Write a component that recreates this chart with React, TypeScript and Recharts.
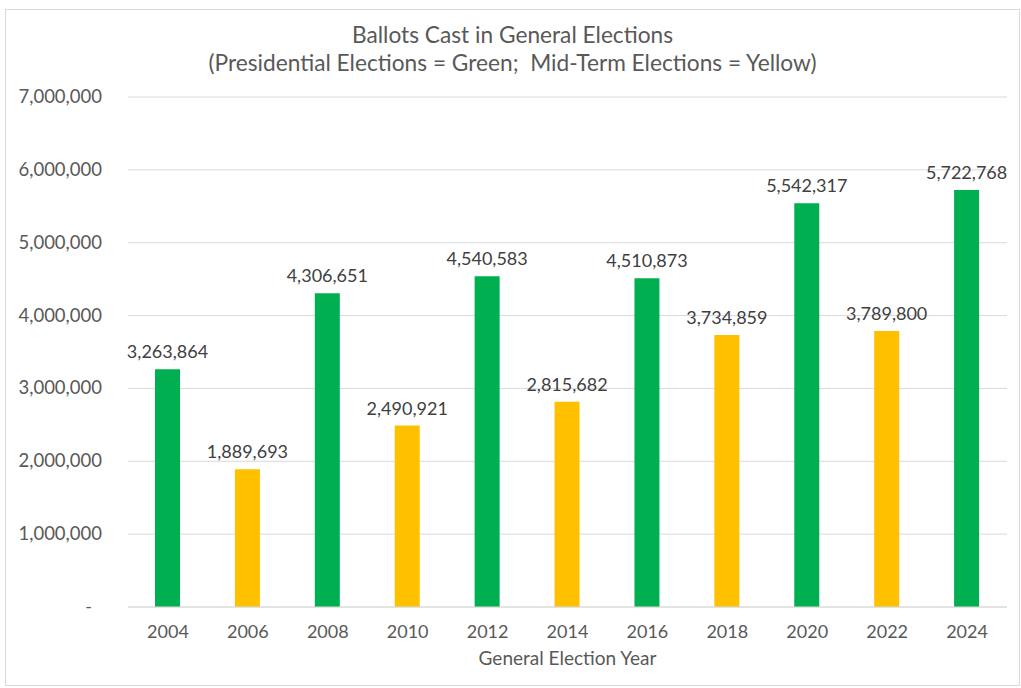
import React from "react";
import { BarChart, Bar, XAxis, YAxis, CartesianGrid, LabelList, Cell } from "recharts";

const years = ["2004", "2006", "2008", "2010", "2012", "2014", "2016", "2018", "2020", "2022", "2024"];
const ballots = [3263864, 1889693, 4306651, 2490921, 4540583, 2815682, 4510873, 3734859, 5542317, 3789800, 5722768];
const kinds = ["P", "M", "P", "M", "P", "M", "P", "M", "P", "M", "P"];
const yTicks = [0, 1000000, 2000000, 3000000, 4000000, 5000000, 6000000, 7000000];

const GREEN = "#00B050";
const YELLOW = "#FFC000";
const FONT = "Lato, 'Noto Sans', sans-serif";

const data = years.map((y, i) => ({ year: y, ballots: ballots[i], kind: kinds[i] }));

const YTick = (props: any) => {
  const { x, y, payload } = props;
  const v = payload.value as number;
  if (v === 0) {
    return (
      <text x={x - 10} y={y} dy={6} textAnchor="end" fill="#595959" fontSize={18} fontFamily={FONT}>
        -
      </text>
    );
  }
  return (
    <text x={x} y={y} dy={6} textAnchor="end" fill="#595959" fontSize={18.5} fontFamily={FONT}>
      {v.toLocaleString("en-US")}
    </text>
  );
};

export default function App() {
  return (
    <div
      style={{
        position: "absolute",
        left: 5,
        top: 9,
        width: 1015,
        height: 677,
        border: "1px solid #D9D9D9",
        boxSizing: "border-box",
        background: "#fff",
        fontFamily: FONT,
      }}
    >
      <div
        style={{
          position: "absolute",
          top: 11,
          left: 0,
          width: "100%",
          textAlign: "center",
          color: "#595959",
          fontSize: 22.7,
          lineHeight: "28px",
        }}
      >
        Ballots Cast in General Elections
        <br />
        (Presidential Elections = Green;&nbsp; Mid-Term Elections = Yellow)
      </div>
      <BarChart
        width={1013}
        height={675}
        data={data}
        margin={{ top: 87, right: 12, left: 0, bottom: 0 }}
      >
        <CartesianGrid vertical={false} stroke="#D9D9D9" />
        <XAxis
          dataKey="year"
          axisLine={{ stroke: "#D9D9D9" }}
          tickLine={false}
          height={78}
          tickMargin={12}
          tick={{ fill: "#595959", fontSize: 18, fontFamily: FONT }}
          label={{
            value: "General Election Year",
            position: "insideBottom",
            offset: 20,
            fill: "#595959",
            fontSize: 19,
            fontFamily: FONT,
          }}
        />
        <YAxis
          width={122}
          domain={[0, 7000000]}
          ticks={yTicks}
          axisLine={false}
          tickLine={false}
          tickMargin={20}
          tick={<YTick />}
        />
        <Bar dataKey="ballots" barSize={25} isAnimationActive={false}>
          {data.map((d) => (
            <Cell key={d.year} fill={d.kind === "P" ? GREEN : YELLOW} />
          ))}
          <LabelList
            dataKey="ballots"
            position="top"
            offset={11}
            fill="#404040"
            fontSize={18}
            fontFamily={FONT}
            formatter={(v: any) => Number(v).toLocaleString("en-US")}
          />
        </Bar>
      </BarChart>
    </div>
  );
}
